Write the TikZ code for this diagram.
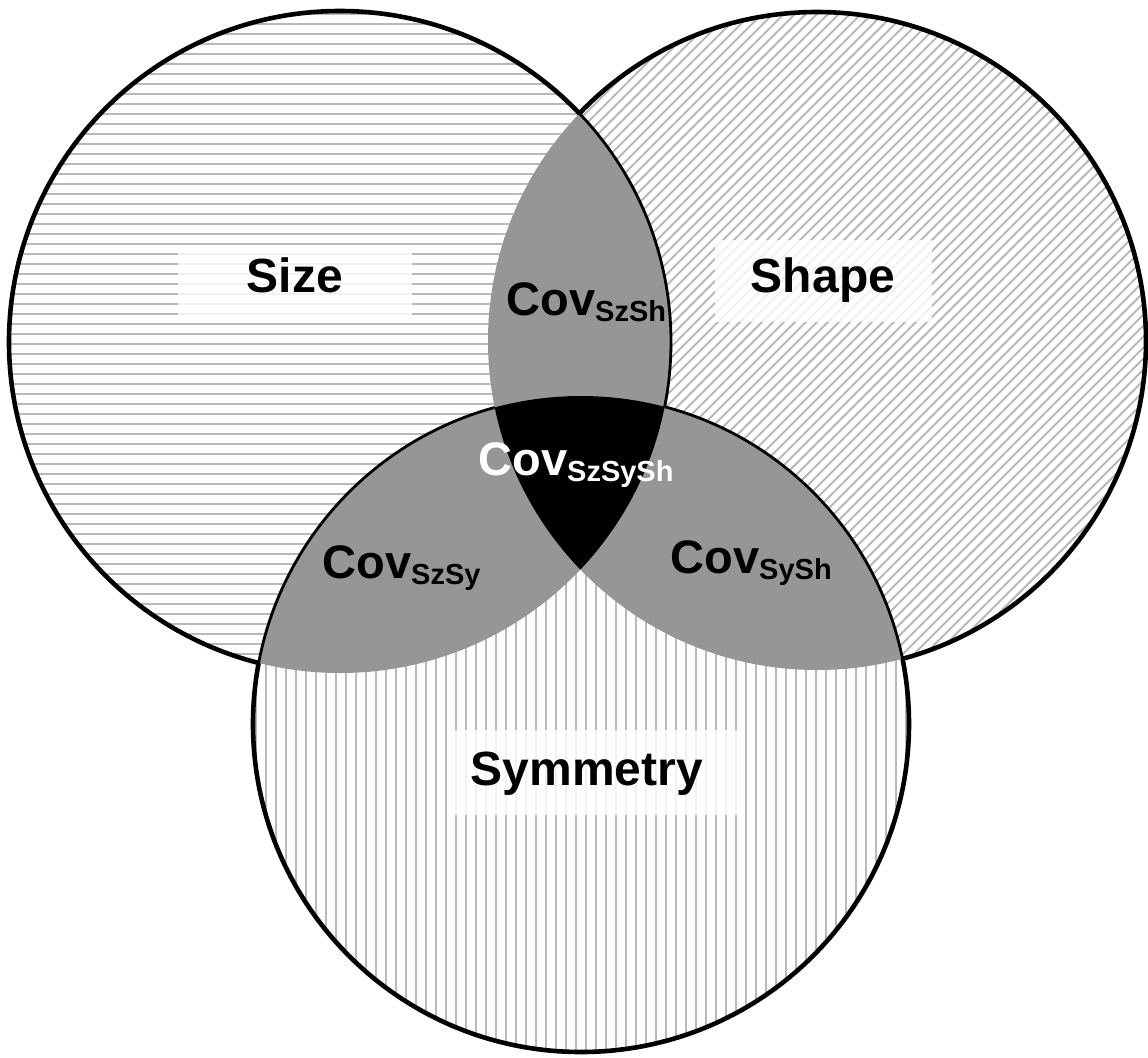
\documentclass[tikz,border=0pt]{standalone}
\usepackage{fontspec}
\setmainfont{Liberation Sans}
\newcommand\covsub[1]{\raisebox{-3pt}{\fontsize{14.5}{15}\selectfont #1}}
\begin{document}
\begin{tikzpicture}[x=0.5pt,y=-0.5pt,
  hatch/.style={draw={rgb,255:red,185;green,185;blue,185}, line width=0.9pt},
  outline/.style={draw=black, line width=2.3pt},
  innerline/.style={draw=black, line width=1.4pt},
  lbl/.style={font=\bfseries\fontsize{24}{28}\selectfont, inner sep=0pt},
  covlbl/.style={font=\bfseries\fontsize{23.5}{28}\selectfont, inner sep=0pt, anchor=base west},
  labelbox/.style={fill=white, fill opacity=0.8},
  covgray/.style={fill={rgb,255:red,150;green,150;blue,150}}]
\useasboundingbox (0,0) rectangle (1148,1057);
\coordinate (cL) at (340,342);
\coordinate (cR) at (817,341);
\coordinate (cB) at (581,724);

% Size circle: horizontal hatch
\begin{scope}
  \clip (cL) circle (331);
  \fill[white] (cL) circle (331);
  \foreach \y in {14,24,...,674} \draw[hatch] (0,\y) -- (700,\y);
\end{scope}
% Shape circle: diagonal hatch
\begin{scope}
  \clip (cR) circle (329);
  \fill[white] (cR) circle (329);
  \foreach \c in {490,501,...,1830} \draw[hatch] ({\c-700},700) -- (\c,0);
\end{scope}
% Symmetry circle: vertical hatch
\begin{scope}
  \clip (cB) circle (328);
  \fill[white] (cB) circle (328);
  \foreach \x in {256,266,...,910} \draw[hatch] (\x,390) -- (\x,1060);
\end{scope}

% pairwise covariances (gray)
\begin{scope}
  \clip (cL) circle (331);
  \fill[covgray] (cR) circle (329);
  \fill[covgray] (cB) circle (328);
\end{scope}
\begin{scope}
  \clip (cR) circle (329);
  \fill[covgray] (cB) circle (328);
\end{scope}
% triple covariance (black)
\begin{scope}
  \clip (cL) circle (331);
  \clip (cR) circle (329);
  \fill[black] (cB) circle (328);
\end{scope}

% outer outline
\begin{scope}[even odd rule]
  \clip (-20,-20) rectangle (1170,1080) (cR) circle (329);
  \clip (-20,-20) rectangle (1170,1080) (cB) circle (328);
  \draw[outline] (cL) circle (331);
\end{scope}
\begin{scope}[even odd rule]
  \clip (-20,-20) rectangle (1170,1080) (cL) circle (331);
  \clip (-20,-20) rectangle (1170,1080) (cB) circle (328);
  \draw[outline] (cR) circle (329);
\end{scope}
\begin{scope}[even odd rule]
  \clip (-20,-20) rectangle (1170,1080) (cL) circle (331);
  \clip (-20,-20) rectangle (1170,1080) (cR) circle (329);
  \draw[outline] (cB) circle (328);
\end{scope}
% inner arcs
\begin{scope}[even odd rule]
  \clip (cR) circle (329);
  \clip (-20,-20) rectangle (1170,1080) (cB) circle (328);
  \draw[innerline] (cL) circle (331);
\end{scope}
\begin{scope}[even odd rule]
  \clip (cL) circle (331);
  \clip (-20,-20) rectangle (1170,1080) (cR) circle (329);
  \draw[innerline] (cB) circle (328);
\end{scope}
\begin{scope}[even odd rule]
  \clip (cR) circle (329);
  \clip (-20,-20) rectangle (1170,1080) (cL) circle (331);
  \draw[innerline] (cB) circle (328);
\end{scope}

% label boxes
\fill[labelbox] (178,245) rectangle (412,319);
\fill[labelbox] (715,240) rectangle (932,322);
\fill[labelbox] (453,730) rectangle (737,815);

\node[lbl, anchor=base] (size) at (295,292) {Size};
\node[lbl, anchor=base] (shape) at (823,292) {Shape};
\node[lbl, anchor=base] (symmetry) at (587,785) {Symmetry};

\node[covlbl] (szsh) at (506,315) {Cov\covsub{SzSh}};
\node[covlbl, text=white] (szsysh) at (478,475) {Cov\covsub{SzSySh}};
\node[covlbl] (szsy) at (322,578) {Cov\covsub{SzSy}};
\node[covlbl] (sysh) at (670,573) {Cov\covsub{SySh}};
\end{tikzpicture}
\end{document}
